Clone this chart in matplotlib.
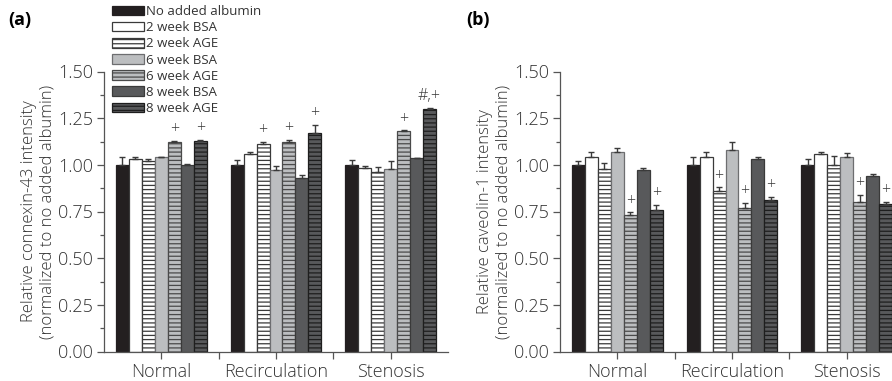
import numpy as np
import matplotlib
matplotlib.use('Agg')
import matplotlib.pyplot as plt
from matplotlib.ticker import MultipleLocator, FixedLocator

plt.rcParams['font.family'] = ['Open Sans', 'DejaVu Sans']
plt.rcParams['hatch.linewidth'] = 0.9

groups = ['Normal', 'Recirculation', 'Stenosis']
series = ['No added albumin', '2 week BSA', '2 week AGE', '6 week BSA',
          '6 week AGE', '8 week BSA', '8 week AGE']

# connexin-43, rows = series, cols = groups
cx43_mean = [
    [1.00, 1.00, 1.00],
    [1.03, 1.06, 0.985],
    [1.02, 1.11, 0.96],
    [1.04, 0.97, 0.98],
    [1.12, 1.12, 1.18],
    [1.00, 0.93, 1.035],
    [1.13, 1.17, 1.30],
]
cx43_err = [
    [0.04, 0.025, 0.025],
    [0.01, 0.01, 0.01],
    [0.01, 0.015, 0.03],
    [0.004, 0.025, 0.04],
    [0.01, 0.015, 0.005],
    [0.005, 0.015, 0.004],
    [0.005, 0.045, 0.005],
]
cx43_marks = [
    ['', '', ''],
    ['', '', ''],
    ['', '+', ''],
    ['', '', ''],
    ['+', '+', '+'],
    ['', '', ''],
    ['+', '+', '#,+'],
]

# caveolin-1
cav1_mean = [
    [1.00, 1.00, 1.00],
    [1.04, 1.04, 1.06],
    [0.98, 0.86, 1.00],
    [1.07, 1.08, 1.04],
    [0.73, 0.77, 0.80],
    [0.97, 1.03, 0.94],
    [0.76, 0.81, 0.79],
]
cav1_err = [
    [0.02, 0.04, 0.03],
    [0.03, 0.03, 0.01],
    [0.03, 0.02, 0.05],
    [0.02, 0.04, 0.025],
    [0.015, 0.025, 0.04],
    [0.015, 0.01, 0.01],
    [0.025, 0.02, 0.01],
]
cav1_marks = [
    ['', '', ''],
    ['', '', ''],
    ['', '+', ''],
    ['', '', ''],
    ['+', '+', '+'],
    ['', '', ''],
    ['+', '+', '+'],
]

colors = ['#231f20', '#ffffff', '#ffffff', '#bcbec0', '#bcbec0', '#58595b', '#58595b']
hatches = [None, None, '----', None, '----', None, '----']
edges = ['#231f20', '#3a3a3a', '#3a3a3a', '#6d6e70', '#4a4a4a', '#3a3a3a', '#1e1e1e']

W, H = 892, 381
fig = plt.figure(figsize=(W / 100, H / 100), dpi=100)

bw = 0.113
x = np.arange(len(groups))


def draw_panel(ax, means, errs, marks, ylabel):
    for j, name in enumerate(series):
        pos = x + (j - 3) * bw
        ax.bar(pos, means[j], width=bw, color=colors[j], edgecolor=edges[j],
               linewidth=0.9, hatch=hatches[j], label=name, zorder=2)
        ax.errorbar(pos, means[j], yerr=[np.zeros(3), errs[j]], fmt='none',
                    ecolor='#3a3a3a', elinewidth=1.0, capsize=2.5, capthick=1.0,
                    zorder=3)
        for i in range(3):
            if marks[j][i]:
                ax.text(pos[i], means[j][i] + errs[j][i] + 0.02, marks[j][i],
                        ha='center', va='bottom', fontsize=11.5, fontweight='light',
                        color='#333333')
    ax.set_xlim(-0.5, 2.5)
    ax.set_ylim(0, 1.5)
    ax.spines['top'].set_visible(False)
    ax.spines['right'].set_visible(False)
    for s in ['left', 'bottom']:
        ax.spines[s].set_color('#555555')
        ax.spines[s].set_linewidth(0.9)
    ax.yaxis.set_minor_locator(MultipleLocator(0.125))
    ax.set_yticks([0, 0.25, 0.5, 0.75, 1.0, 1.25, 1.5])
    ax.set_yticklabels(['0.00', '0.25', '0.50', '0.75', '1.00', '1.25', '1.50'],
                       fontweight='light')
    ax.set_xticks(x)
    ax.set_xticklabels(groups, fontweight='light')
    ax.xaxis.set_minor_locator(FixedLocator([0.5, 1.5]))
    ax.tick_params(axis='both', which='major', length=5, width=0.9,
                   color='#555555', labelsize=13, labelcolor='#333333')
    ax.tick_params(axis='y', which='minor', length=3, width=0.9, color='#555555')
    ax.tick_params(axis='x', which='minor', length=5, width=0.9, color='#555555')
    ax.tick_params(axis='x', which='major', pad=3)
    ax.tick_params(axis='y', which='major', pad=3)
    ax.set_ylabel(ylabel, fontsize=12, fontweight='light', color='#333333',
                  linespacing=1.2, labelpad=2)


ax1 = fig.add_axes([104 / W, (H - 351.5) / H, 344 / W, 280 / H])
draw_panel(ax1, cx43_mean, cx43_err, cx43_marks,
           'Relative connexin-43 intensity\n(normalized to no added albumin)')

ax2 = fig.add_axes([560 / W, (H - 351.5) / H, 344 / W, 280 / H])
draw_panel(ax2, cav1_mean, cav1_err, cav1_marks,
           'Relative caveolin-1 intensity\n(normalized to no added albumin)')

fig.text(8 / W, 1 - 20 / H, '(a)', fontsize=13, fontweight='bold', va='center')
fig.text(466 / W, 1 - 20 / H, '(b)', fontsize=13, fontweight='bold', va='center')

handles, labels = ax1.get_legend_handles_labels()
fig.legend(handles, labels, loc='upper left', bbox_to_anchor=(112 / W, 1 - 5 / H),
           frameon=False, fontsize=9.5, handlelength=2.4, handleheight=0.75,
           labelspacing=0.24, handletextpad=0.2, borderpad=0, borderaxespad=0,
           labelcolor='#333333')

fig.savefig('out.png', dpi=100)
